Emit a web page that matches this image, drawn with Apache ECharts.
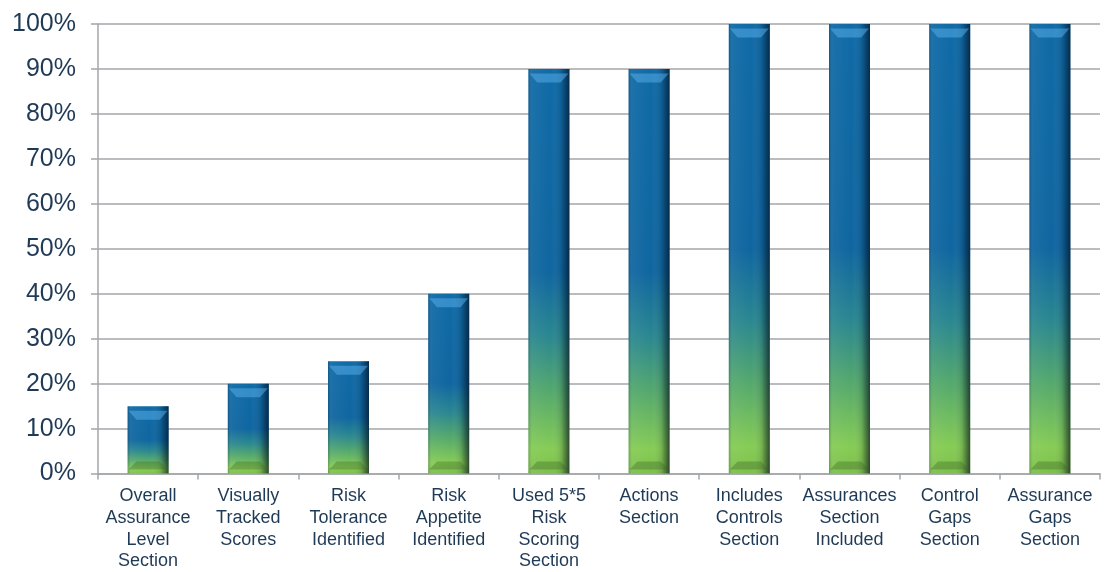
<!DOCTYPE html>
<html>
<head>
<meta charset="utf-8">
<style>
  html, body { margin: 0; padding: 0; background: #ffffff; overflow: hidden; }
  #chart { width: 1105px; height: 572px; }
</style>
<script src="https://cdn.jsdelivr.net/npm/echarts@6/dist/echarts.min.js"></script>
</head>
<body>
<div id="chart"></div>
<script>
// Register sections and the share of documents covering each one
const categories = [
  'Overall\nAssurance\nLevel\nSection',
  'Visually\nTracked\nScores',
  'Risk\nTolerance\nIdentified',
  'Risk\nAppetite\nIdentified',
  'Used 5*5\nRisk\nScoring\nSection',
  'Actions\nSection',
  'Includes\nControls\nSection',
  'Assurances\nSection\nIncluded',
  'Control\nGaps\nSection',
  'Assurance\nGaps\nSection'
];
const percentValues = [15, 20, 25, 40, 90, 90, 100, 100, 100, 100];
const yTickValues = [0, 10, 20, 30, 40, 50, 60, 70, 80, 90, 100];

const textColor = '#1f3a56';
const lineColor = '#a3a6aa';
const barWidth = 41;

const chart = echarts.init(document.getElementById('chart'), null, { renderer: 'canvas' });

chart.setOption({
  animation: false,
  backgroundColor: '#ffffff',
  grid: { left: 98, right: 5, top: 24, bottom: 92, containLabel: false },
  xAxis: {
    type: 'category',
    data: categories,
    boundaryGap: true,
    axisLine: { show: true, lineStyle: { color: lineColor, width: 1.5 } },
    axisTick: { show: true, alignWithLabel: false, length: 6, lineStyle: { color: lineColor, width: 1.5 } },
    axisLabel: {
      color: textColor,
      fontFamily: 'Liberation Sans, Arial, sans-serif',
      fontSize: 18,
      lineHeight: 21.6,
      margin: 12,
      interval: 0
    }
  },
  yAxis: {
    type: 'value',
    min: yTickValues[0],
    max: yTickValues[yTickValues.length - 1],
    interval: 10,
    axisLine: { show: true, lineStyle: { color: lineColor, width: 1.5 } },
    axisTick: { show: true, length: 7, lineStyle: { color: lineColor, width: 1.5 } },
    splitLine: { show: true, lineStyle: { color: lineColor, width: 1.5 } },
    axisLabel: {
      color: textColor,
      fontFamily: 'Liberation Sans, Arial, sans-serif',
      fontSize: 25,
      margin: 22,
      formatter: v => v + '%'
    }
  },
  series: [
    {
      // main bars: blue at the top fading into green at the base
      name: 'share',
      type: 'bar',
      data: percentValues,
      barWidth: barWidth,
      z: 2,
      itemStyle: {
        color: {
          type: 'linear', x: 0, y: 0, x2: 0, y2: 1,
          colorStops: [
            { offset: 0, color: '#0f6aa6' },
            { offset: 0.5, color: '#0f66a0' },
            { offset: 0.66, color: '#2a8790' },
            { offset: 0.8, color: '#55a96c' },
            { offset: 0.94, color: '#86cc55' },
            { offset: 1, color: '#7dbf4c' }
          ]
        }
      }
    },
    {
      // bevel shading: dim left edge, dark right edge
      name: 'shade',
      type: 'bar',
      data: percentValues,
      barWidth: barWidth,
      barGap: '-100%',
      z: 3,
      silent: true,
      itemStyle: {
        color: {
          type: 'linear', x: 0, y: 0, x2: 1, y2: 0,
          colorStops: [
            { offset: 0, color: 'rgba(0,20,40,0.22)' },
            { offset: 0.1, color: 'rgba(255,255,255,0.05)' },
            { offset: 0.55, color: 'rgba(255,255,255,0.0)' },
            { offset: 0.8, color: 'rgba(0,10,25,0.12)' },
            { offset: 1, color: 'rgba(0,10,25,0.65)' }
          ]
        }
      }
    },
    {
      // lighter bevel cap at the top of each bar
      name: 'cap',
      type: 'pictorialBar',
      data: percentValues,
      symbol: 'path://M0,0 L40,0 L32,8 L8,8 Z',
      symbolSize: [barWidth - 2, 9],
      symbolPosition: 'end',
      symbolOffset: [0, '50%'],
      barGap: '-100%',
      z: 4,
      silent: true,
      itemStyle: { color: 'rgba(90,175,235,0.5)' }
    },
    {
      // lighter bevel sill at the base of each bar
      name: 'base',
      type: 'pictorialBar',
      data: percentValues.map(() => 0),
      symbol: 'path://M8,0 L32,0 L40,7 L0,7 Z',
      symbolSize: [barWidth - 2, 8],
      symbolPosition: 'start',
      symbolOffset: [0, '-50%'],
      barGap: '-100%',
      z: 4,
      silent: true,
      itemStyle: { color: 'rgba(60,100,35,0.35)' }
    }
  ]
});
</script>
</body>
</html>
